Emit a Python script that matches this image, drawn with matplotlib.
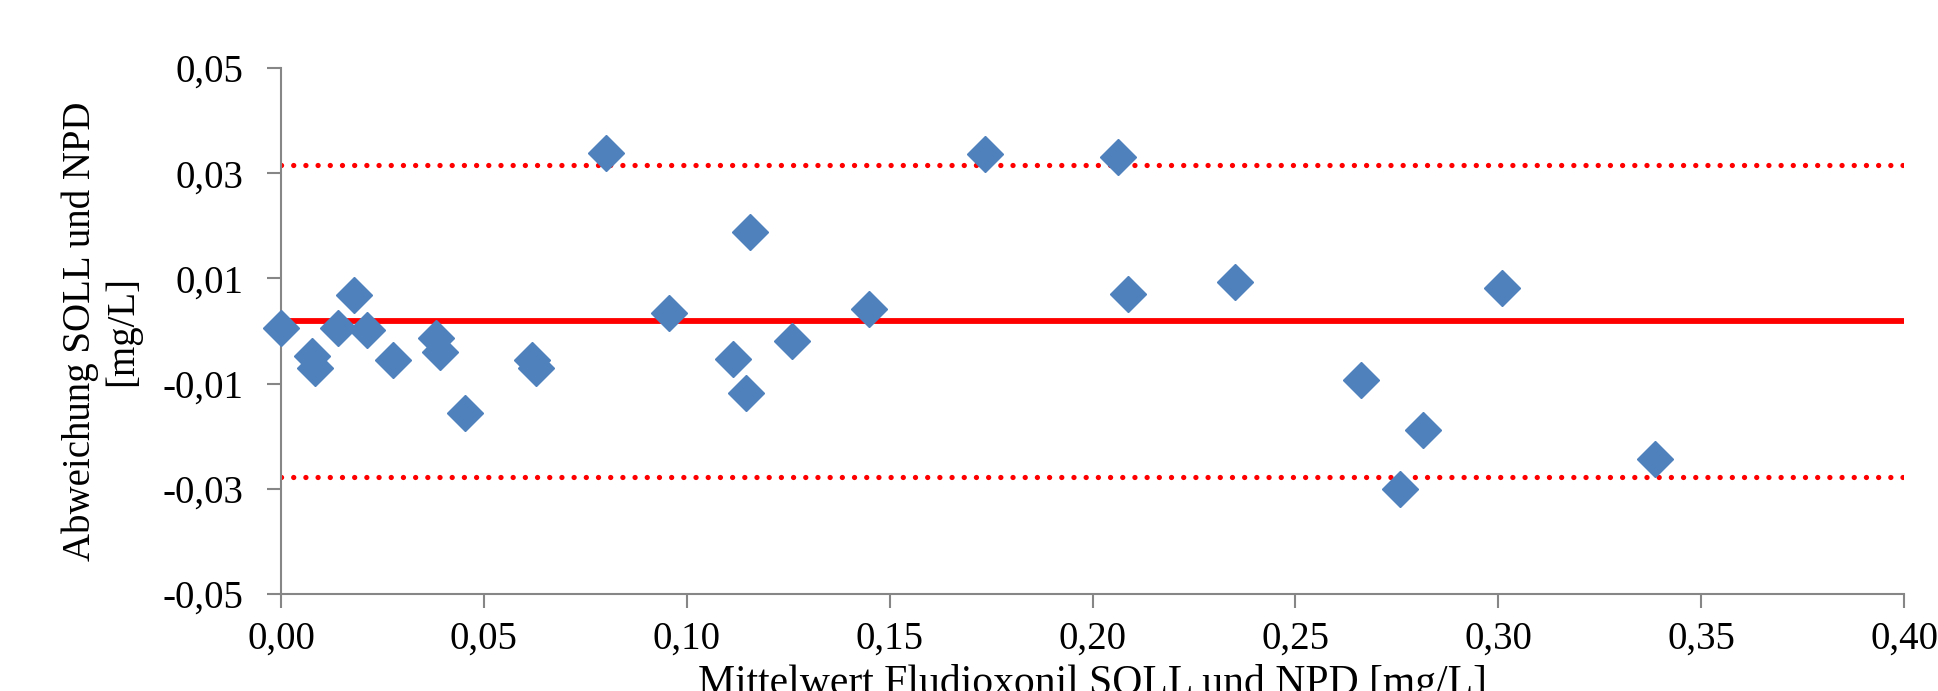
import matplotlib
matplotlib.use('Agg')
import numpy as np
import matplotlib.pyplot as plt
from matplotlib.ticker import FuncFormatter

# Bland-Altman: Fludioxonil SOLL vs NPD
mittelwert = [0.000, 0.0076, 0.0085, 0.0140, 0.0180, 0.0213, 0.0277, 0.0381,
              0.0393, 0.0454, 0.0619, 0.0628, 0.0802, 0.0957, 0.1113, 0.1146,
              0.1155, 0.1259, 0.1448, 0.1735, 0.2064, 0.2088, 0.2351, 0.2662,
              0.2759, 0.2814, 0.3009, 0.3387]
abweichung = [0.0005, -0.0047, -0.0070, 0.0005, 0.0068, 0.0002, -0.0056, -0.0014,
              -0.0040, -0.0155, -0.0056, -0.0070, 0.0338, 0.0035, -0.0054, -0.0117,
              0.0188, -0.0019, 0.0042, 0.0336, 0.0331, 0.0070, 0.0094, -0.0094,
              -0.0300, -0.0188, 0.0082, -0.0244]

mittel_diff = 0.0019
obere_grenze = 0.0315
untere_grenze = -0.0277

x_ticks = [0.00, 0.05, 0.10, 0.15, 0.20, 0.25, 0.30, 0.35, 0.40]
y_ticks = [-0.05, -0.03, -0.01, 0.01, 0.03, 0.05]

plt.rcParams['font.family'] = 'Liberation Serif'
FS = 28
GRAU = '#868686'

fig = plt.figure(figsize=(19.38, 6.91), dpi=100)
ax = fig.add_axes([281/1938, 1 - 594/691, (1904 - 281)/1938, (594 - 68)/691])

ax.axhline(mittel_diff, color='#FF0000', linewidth=4.2, zorder=2)
for g in (obere_grenze, untere_grenze):
    ax.axhline(g, color='#FF0000', linewidth=3.8, linestyle=(0, (0.01, 2.3)),
               dash_capstyle='round', zorder=2)

ax.plot(mittelwert, abweichung, linestyle='none', marker='D', markersize=18,
        color='#4F81BD', markeredgecolor='#4F81BD', zorder=3, clip_on=False)

ax.set_xlim(0, 0.40)
ax.set_ylim(-0.05, 0.05)
ax.set_xticks(x_ticks)
ax.set_yticks(y_ticks)
komma = FuncFormatter(lambda v, pos: f'{v:.2f}'.replace('.', ','))
ax.xaxis.set_major_formatter(komma)
ax.yaxis.set_major_formatter(komma)

for s in ('top', 'right'):
    ax.spines[s].set_visible(False)
for s in ('left', 'bottom'):
    ax.spines[s].set_color(GRAU)
    ax.spines[s].set_linewidth(1.5)

ax.tick_params(axis='both', direction='out', length=10, width=1.5, color=GRAU,
               labelsize=FS, labelcolor='black')
ax.tick_params(axis='y', pad=17)
ax.tick_params(axis='x', pad=9)

fig.text(101/1938, 1 - 331/691, 'Abweichung SOLL und NPD\n[mg/L]', rotation=90,
         ha='center', va='center', fontsize=FS, multialignment='center',
         linespacing=1.15)
fig.text(1092/1938, 1 - 664/691, 'Mittelwert Fludioxonil SOLL und NPD [mg/L]',
         ha='center', va='top', fontsize=30)

fig.savefig('out.png', dpi=100)
